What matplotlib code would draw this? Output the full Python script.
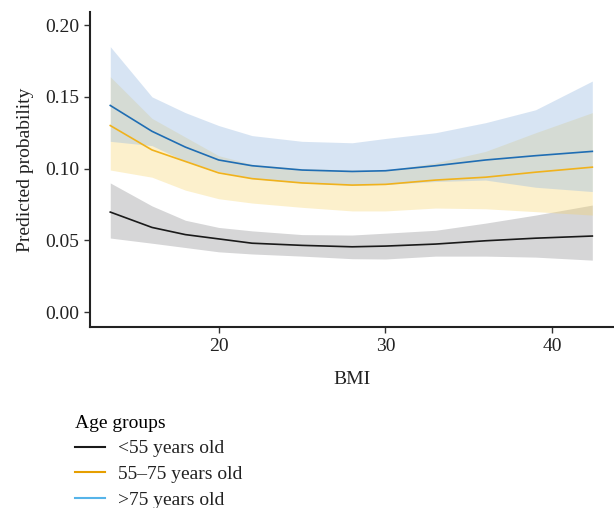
import matplotlib
matplotlib.use('Agg')
import matplotlib.pyplot as plt

# BMI grid and predicted probabilities
bmi = [13.5, 16, 18, 20, 22, 25, 28, 30, 33, 36, 39, 42.4]

old_fit = [0.144, 0.126, 0.115, 0.106, 0.102, 0.099, 0.098, 0.0985, 0.102, 0.106, 0.109, 0.112]
old_hi = [0.185, 0.150, 0.139, 0.130, 0.123, 0.119, 0.118, 0.121, 0.125, 0.132, 0.141, 0.161]
old_lo = [0.119, 0.116, 0.105, 0.098, 0.093, 0.090, 0.0885, 0.089, 0.091, 0.092, 0.087, 0.084]

mid_fit = [0.130, 0.113, 0.105, 0.097, 0.093, 0.090, 0.0885, 0.089, 0.092, 0.094, 0.0975, 0.101]
mid_hi = [0.164, 0.135, 0.122, 0.109, 0.103, 0.100, 0.099, 0.099, 0.104, 0.112, 0.125, 0.139]
mid_lo = [0.099, 0.094, 0.085, 0.079, 0.076, 0.073, 0.0705, 0.0705, 0.0725, 0.072, 0.070, 0.0676]

young_fit = [0.0697, 0.059, 0.054, 0.051, 0.048, 0.0465, 0.0455, 0.046, 0.0474, 0.0497, 0.0515, 0.053]
young_hi = [0.090, 0.074, 0.064, 0.059, 0.0566, 0.054, 0.0537, 0.055, 0.057, 0.062, 0.0676, 0.0746]
young_lo = [0.0516, 0.048, 0.045, 0.042, 0.0405, 0.039, 0.0372, 0.037, 0.039, 0.039, 0.0383, 0.0362]

labels = ['<55 years old', '55\u201375 years old', '>75 years old']

plt.rcParams['font.family'] = ['Liberation Serif', 'DejaVu Serif']
FS = 14

fig = plt.figure(figsize=(6.14, 5.08), dpi=100)
ax = fig.add_axes([0.147, 0.356, 0.853, 0.62])

# confidence bands
ax.fill_between(bmi, young_lo, young_hi, color='#808085', alpha=0.32, linewidth=0)
ax.fill_between(bmi, mid_lo, mid_hi, color='#f7d261', alpha=0.32, linewidth=0)
ax.fill_between(bmi, old_lo, old_hi, color='#9cbde2', alpha=0.40, linewidth=0)

# fitted lines
ax.plot(bmi, young_fit, color='#1a1a1a', linewidth=1.2)
ax.plot(bmi, mid_fit, color='#f0b21c', linewidth=1.2)
ax.plot(bmi, old_fit, color='#1f6db3', linewidth=1.2)

ax.set_xlim(12.3, 43.7)
ax.set_ylim(-0.0105, 0.209)
ax.set_xticks([20, 30, 40])
ax.set_yticks([0.00, 0.05, 0.10, 0.15, 0.20])
ax.set_yticklabels(['0.00', '0.05', '0.10', '0.15', '0.20'])
for s in ['top', 'right']:
    ax.spines[s].set_visible(False)
for s in ['left', 'bottom']:
    ax.spines[s].set_linewidth(1.5)
    ax.spines[s].set_color('#222222')
ax.tick_params(axis='both', labelsize=FS, length=4, width=1, colors='#333333',
               labelcolor='#222222', pad=4)
ax.set_xlabel('BMI', fontsize=FS, labelpad=11, color='#222222')
ax.set_ylabel('Predicted probability', fontsize=FS, labelpad=8, color='#222222')

# legend below the plot
handles = [
    plt.Line2D([], [], color='#1a1a1a', linewidth=1.5),
    plt.Line2D([], [], color='#e69f00', linewidth=1.5),
    plt.Line2D([], [], color='#56b4e9', linewidth=1.5),
]
fig.legend(handles, labels, title='Age groups', loc='upper left',
           bbox_to_anchor=(0.107, 0.203), frameon=False, fontsize=FS,
           title_fontsize=FS, alignment='left', handlelength=1.5,
           labelspacing=0.42, borderpad=0, handletextpad=0.7,
           labelcolor='#222222')

fig.savefig('out.png', dpi=100)
